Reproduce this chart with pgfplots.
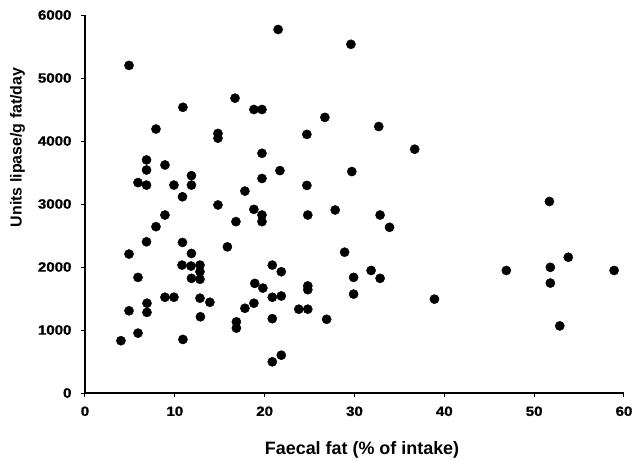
\documentclass[border=0pt]{standalone}
\usepackage{fontspec}
\usepackage{graphicx}
\setmainfont{Liberation Sans}
\newfontfamily\tickfont[FakeStretch=1.12, FakeBold=1.2]{Liberation Sans}
\usepackage{pgfplots}
\pgfplotsset{compat=1.18}
\begin{document}
\begin{tikzpicture}
\path[use as bounding box] (-85bp,-67bp) rectangle (548bp,393bp);
\begin{axis}[
  at={(0,0)}, anchor=south west,
  scale only axis, width=539bp, height=378bp,
  xmin=0, xmax=60, ymin=0, ymax=6000,
  axis x line=bottom, axis y line=left,
  axis line style={-, line width=2.4bp, black},
  xtick={0,10,...,60}, ytick={0,1000,...,6000},
  tick align=outside, major tick length=4bp,
  tick style={black, line width=1bp},
  /pgf/number format/assume math mode=true,
  scaled y ticks=false,
  yticklabel style={/pgf/number format/1000 sep={}, xshift=-6bp},
  xticklabel style={yshift=-6bp},
  tick label style={font=\tickfont\bfseries\fontsize{13.5}{14}\selectfont},
  xlabel={Faecal fat (\% of intake)},
  ylabel={Units lipase/g fat/day},
  xlabel style={font=\bfseries\fontsize{18}{20}\selectfont, at={(axis description cs:0.514,-0.1614)}, anchor=base},
  ylabel style={font=\bfseries\fontsize{16}{18}\selectfont, at={(axis description cs:-0.1252,0.65)}, anchor=center},
]
\addplot[only marks, mark=*, mark size=4.6bp, black, mark options={fill=black, draw=black}] table {
x y
4.0 830
4.9 5200
4.9 2205
4.9 1305
5.9 3340
5.9 1835
5.9 950
6.85 3700
6.85 3540
6.85 3300
6.85 2400
6.9 1425
6.9 1280
7.9 4190
7.9 2640
8.9 3620
8.9 2825
8.9 1520
9.9 3300
9.9 1520
10.9 4535
10.85 3115
10.85 2390
10.8 2030
10.9 850
11.85 3450
11.85 3300
11.85 2215
11.8 2015
11.85 1820
12.8 2030
12.8 1925
12.8 1805
12.8 1505
12.85 1210
13.9 1440
14.8 4120
14.8 4045
14.8 2985
15.85 2320
16.7 4680
16.8 2720
16.85 1130
16.85 1030
17.8 3205
17.8 1345
18.8 4500
18.8 2915
18.8 1425
18.9 1740
19.7 4500
19.7 3805
19.7 3405
19.7 2825
19.7 2720
19.8 1665
20.85 2030
20.85 1520
20.85 1180
20.85 495
21.5 5770
21.7 3530
21.85 1925
21.85 1540
21.85 600
23.8 1330
24.7 4105
24.7 3295
24.8 2825
24.8 1700
24.8 1640
24.8 1330
26.7 4375
26.9 1170
27.85 2905
28.9 2235
29.6 5535
29.7 3515
29.9 1835
29.9 1570
31.85 1945
32.7 4230
32.85 2825
32.85 1820
33.9 2630
36.7 3870
38.9 1490
46.9 1945
51.7 3040
51.8 1995
51.8 1745
52.85 1065
53.8 2155
58.9 1945
};
\end{axis}
\end{tikzpicture}
\end{document}
